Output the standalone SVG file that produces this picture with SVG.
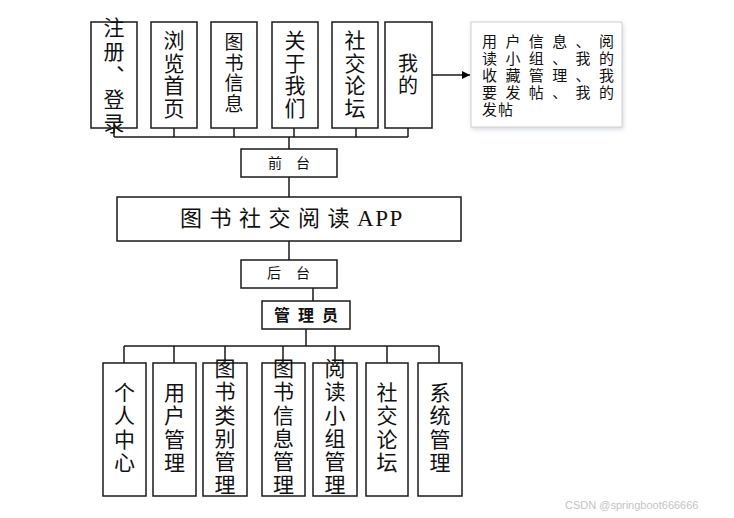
<svg xmlns="http://www.w3.org/2000/svg" width="734" height="518" viewBox="0 0 734 518">
<defs>
<style>
.box{fill:#fff;stroke:#1a1a1a;stroke-width:1.5}
.ln{fill:none;stroke:#1a1a1a;stroke-width:1.5}
.vt{font-family:"Noto Sans CJK SC","Noto Sans",sans-serif;fill:#111;writing-mode:vertical-rl;font-size:21px;letter-spacing:2.3px}
.side{font-family:"Liberation Sans","Noto Sans CJK SC",sans-serif;fill:#111;font-size:15px}
.lbl{font-family:"Noto Sans CJK SC","Noto Sans",sans-serif;fill:#111;font-size:14px}
</style>
<marker id="arr" viewBox="0 0 10 10" refX="10" refY="5" markerWidth="10" markerHeight="8" markerUnits="userSpaceOnUse" orient="auto">
<path d="M0,0 L10,5 L0,10 z" fill="#000"/>
</marker>
<filter id="sh" x="-10%" y="-10%" width="130%" height="130%">
<feDropShadow dx="1" dy="2" stdDeviation="2" flood-color="#8899aa" flood-opacity="0.35"/>
</filter>
</defs>
<rect width="734" height="518" fill="#fff"/>

<g id="connectors">
<path class="ln" d="M114,128 V137 M174,128 V137 M234,128 V137 M294,128 V137 M356,128 V137 M408,128 V137 M114,137 H408 M289,137 V149"/>
<path class="ln" d="M289,177 V197 M289,241 V260 M313,288 V301"/>
<path class="ln" d="M306,329 V346" stroke-width="2.5"/>
<path class="ln" d="M124,346 H439 M124,346 V363 M174,346 V363 M225,346 V363 M283,346 V363 M335,346 V363 M387,346 V363 M439,346 V363"/>
<path class="ln" d="M432,75 H470" marker-end="url(#arr)"/>
</g>

<g id="n-zhuce"><rect class="box" x="91" y="22" width="46" height="106"/>
<text class="vt" x="114" y="16.5" style="letter-spacing:3px;font-feature-settings:'vert' 0">注册、登录</text></g>
<g id="n-liulan"><rect class="box" x="151" y="22" width="46" height="106"/>
<text class="vt" x="174" y="29.5" style="letter-spacing:1.7px">浏览首页</text></g>
<g id="n-tushu"><rect class="box" x="211" y="22" width="46" height="106"/>
<text class="vt" x="234" y="32.5" style="font-size:19px;letter-spacing:1.5px">图书信息</text></g>
<g id="n-guanyu"><rect class="box" x="272" y="22" width="46" height="106"/>
<text class="vt" x="295" y="29.5" style="letter-spacing:1.7px">关于我们</text></g>
<g id="n-shejiao"><rect class="box" x="332" y="22" width="46" height="106"/>
<text class="vt" x="355" y="29.5" style="letter-spacing:1.7px">社交论坛</text></g>
<g id="n-wode"><rect class="box" x="385" y="22" width="47" height="106"/>
<text class="vt" x="408" y="53" style="font-size:20px;letter-spacing:2px">我的</text></g>

<g id="n-mine-detail"><rect x="471" y="22" width="151" height="105" fill="#fff" stroke="#d0d0d0" stroke-width="1" filter="url(#sh)"/>
<text class="side" x="482 505.4 528.8 552.2 575.6 599" y="47">用户信息、阅</text>
<text class="side" x="482 505.4 528.8 552.2 575.6 599" y="64">读小组、我的</text>
<text class="side" x="482 505.4 528.8 552.2 575.6 599" y="81">收藏管理、我</text>
<text class="side" x="482 505.4 528.8 552.2 575.6 599" y="98">要发帖、我的</text>
<text class="side" x="482 498" y="115">发帖</text></g>

<g id="n-qiantai"><rect class="box" x="241" y="149" width="96" height="28"/>
<text class="lbl" x="268" y="168" style="letter-spacing:14px">前台</text></g>
<g id="n-app"><rect class="box" x="117" y="197" width="344" height="44"/>
<text x="180" y="226" font-family="Noto Sans CJK SC,sans-serif" font-size="22" fill="#111"><tspan letter-spacing="7.5">图书社交阅读</tspan><tspan font-family="Liberation Serif,serif" font-size="23" letter-spacing="1.5">APP</tspan></text></g>
<g id="n-houtai"><rect class="box" x="241" y="260" width="96" height="28"/>
<text class="lbl" x="267" y="278" style="letter-spacing:15px">后台</text></g>
<g id="n-admin"><rect class="box" x="262" y="301" width="88" height="28"/>
<text x="274" y="321" font-family="Noto Sans CJK SC,sans-serif" font-size="16" font-weight="bold" fill="#111" letter-spacing="8">管理员</text></g>

<g id="b-geren"><rect class="box" x="103" y="363" width="43" height="133"/>
<text class="vt" x="124.5" y="381.5">个人中心</text></g>
<g id="b-yonghu"><rect class="box" x="153" y="363" width="43" height="133"/>
<text class="vt" x="174.5" y="381.5">用户管理</text></g>
<g id="b-leibie"><rect class="box" x="203" y="363" width="44" height="133"/>
<text class="vt" x="225" y="357.5">图书类别管理</text></g>
<g id="b-xinxi"><rect class="box" x="262" y="363" width="43" height="133"/>
<text class="vt" x="283.5" y="357.5">图书信息管理</text></g>
<g id="b-xiaozu"><rect class="box" x="313" y="363" width="44" height="133"/>
<text class="vt" x="335" y="357.5">阅读小组管理</text></g>
<g id="b-luntan"><rect class="box" x="366" y="363" width="42" height="133"/>
<text class="vt" x="387" y="381.5">社交论坛</text></g>
<g id="b-xitong"><rect class="box" x="418" y="363" width="44" height="133"/>
<text class="vt" x="440" y="381.5">系统管理</text></g>

<text x="565" y="509" font-family="Liberation Sans,sans-serif" font-size="11" fill="#c4c4c4">CSDN @springboot666666</text>
</svg>
